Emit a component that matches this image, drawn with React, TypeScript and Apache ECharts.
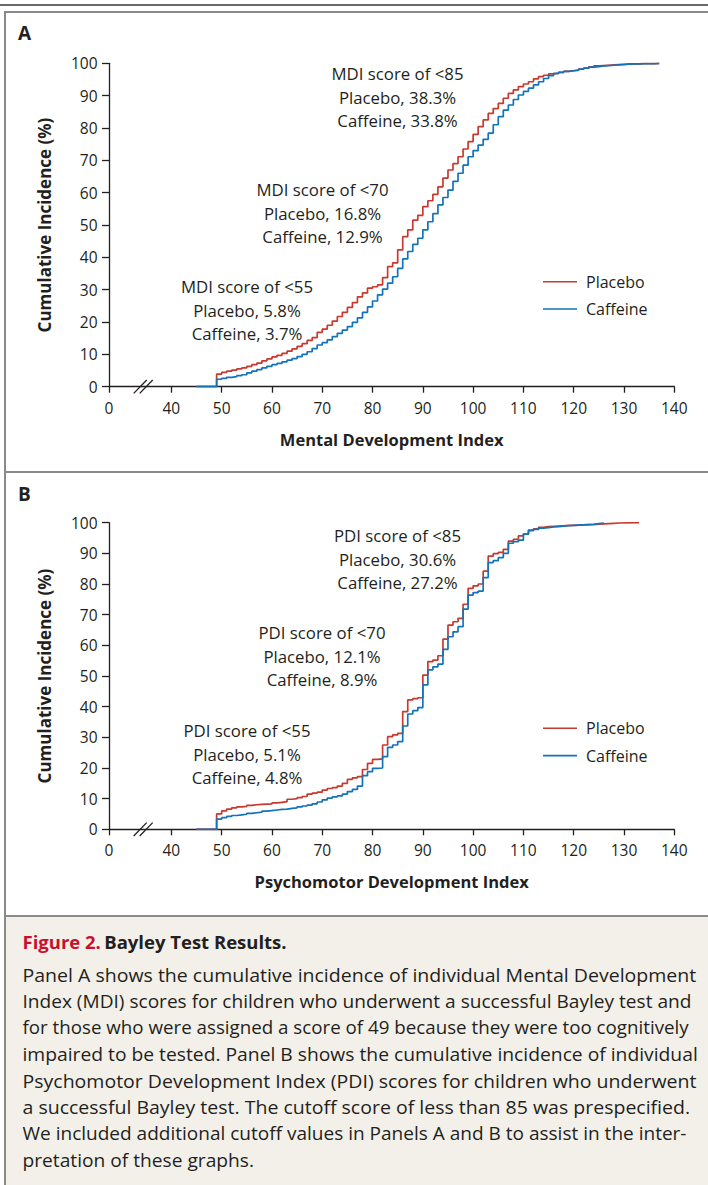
import React, { useEffect, useRef } from "react";
import * as echarts from "echarts";

const W = 708;
const H = 1185;
const FONT = "'Open Sans', 'Noto Sans', sans-serif";
const INK = "#231f20";
const RED = "#c8392e";
const BLUE = "#1273bb";

// x-axis: value that stands for 0 after the axis break
const X_ZERO_AT = 27.6;
const X_MAX = 140;
const xTickValues = [0, 40, 50, 60, 70, 80, 90, 100, 110, 120, 130, 140];
const BREAK_MARK_AT = 34.4;

// Panel A — Mental Development Index
const mdiScores = [
  45, 49, 50, 51, 52, 53, 54, 55, 56, 57, 58, 59, 60, 61, 62, 63, 64, 65, 66, 67, 68, 69,
  70, 71, 72, 73, 74, 75, 76, 77, 78, 79, 80, 81, 82, 83, 84, 85, 86, 87, 88, 89, 90, 91,
  92, 93, 94, 95, 96, 97, 98, 99, 100, 101, 102, 103, 104, 105, 106, 107, 108, 109, 110,
  111, 112, 113, 114, 115, 116, 117, 118, 119, 120, 121, 122, 123, 124, 125, 126, 127,
  128, 129, 130, 131, 132, 133, 134, 135, 136, 137,
];
const mdiPlacebo = [
  0, 3.9, 4.4, 4.8, 5.1, 5.5, 5.8, 6.3, 6.8, 7.3, 8.0, 8.6, 9.2, 9.7, 10.3, 11.0, 11.7, 12.5,
  13.3, 14.3, 15.2, 16.8, 17.8, 19.0, 20.3, 21.7, 23.0, 24.5, 26.0, 27.8, 29.0, 30.5, 30.9,
  31.5, 33.7, 37.1, 38.3, 42.3, 46.4, 48.5, 51.5, 53.0, 55.7, 57.5, 59.5, 61.8, 64.5, 67.0,
  69.0, 71.1, 73.5, 75.8, 78.0, 80.4, 82.5, 84.5, 86.0, 87.6, 89.2, 90.7, 91.8, 92.8, 93.6,
  94.3, 95.2, 95.9, 96.3, 96.7, 96.9, 97.2, 97.5, 97.7, 97.9, 98.2, 98.5, 98.9, 99.2, 99.3,
  99.4, 99.5, 99.6, 99.7, 99.8, 99.8, 99.8, 99.9, 99.9, 99.9, 100, 100,
];
const mdiCaffeine = [
  0, 2.3, 2.6, 2.9, 3.1, 3.4, 3.7, 4.3, 4.8, 5.3, 5.8, 6.3, 6.8, 7.2, 7.7, 8.2, 8.7, 9.3,
  10.0, 10.8, 11.8, 12.9, 13.6, 14.5, 15.5, 16.5, 17.5, 18.6, 19.9, 21.3, 23.0, 24.7, 26.5,
  28.4, 30.2, 32.0, 34.0, 36.6, 39.5, 41.8, 44.0, 45.9, 48.5, 51.0, 53.5, 56.2, 58.5, 60.8,
  63.5, 66.0, 68.5, 71.1, 73.0, 74.7, 76.5, 78.4, 81.0, 83.5, 85.5, 87.1, 88.8, 90.2, 91.3,
  92.3, 93.3, 94.3, 95.3, 96.2, 96.9, 97.2, 97.5, 97.7, 97.9, 98.2, 98.5, 98.8, 99.0, 99.2,
  99.3, 99.4, 99.5, 99.6, 99.7, 99.8, 99.8, 99.9, 99.9, 99.9, 100, 100,
];

// Panel B — Psychomotor Development Index
const pdiPlaceboScores = [
  45, 49, 50, 51, 52, 53, 54, 55, 56, 57, 58, 59, 60, 61, 62, 63, 64, 65, 66, 67, 68, 69,
  70, 71, 72, 73, 74, 75, 76, 77, 78, 79, 80, 81, 82, 83, 84, 85, 86, 87, 88, 89, 90, 91,
  92, 93, 94, 95, 96, 97, 98, 99, 100, 101, 102, 103, 104, 105, 106, 107, 108, 109, 110,
  111, 112, 113, 114, 115, 116, 117, 118, 119, 120, 121, 122, 123, 124, 125, 126, 127,
  128, 129, 133,
];
const pdiPlacebo = [
  0, 5.0, 6.0, 6.6, 7.0, 7.3, 7.5, 7.8, 8.0, 8.1, 8.2, 8.3, 8.6, 8.8, 9.0, 9.8, 10.0, 10.3,
  10.7, 11.5, 11.8, 12.1, 12.8, 13.3, 13.6, 14.1, 15.0, 16.3, 16.8, 17.2, 19.5, 21.5, 22.8,
  23.0, 27.5, 30.2, 30.8, 31.3, 38.4, 42.2, 42.6, 42.9, 50.3, 54.7, 55.2, 56.6, 62.0, 66.6,
  67.7, 68.8, 73.4, 78.6, 79.4, 80.0, 84.2, 89.1, 89.9, 90.3, 91.3, 94.0, 94.6, 95.7, 96.3,
  97.6, 98.0, 98.5, 98.7, 98.8, 98.9, 99.0, 99.1, 99.1, 99.2, 99.3, 99.4, 99.4, 99.5, 99.6,
  99.7, 99.8, 99.9, 100, 100,
];
const pdiCaffeineScores = [
  45, 49, 50, 51, 52, 53, 54, 55, 56, 57, 58, 59, 60, 61, 62, 63, 64, 65, 66, 67, 68, 69,
  70, 71, 72, 73, 74, 75, 76, 77, 78, 79, 80, 81, 82, 83, 84, 85, 86, 87, 88, 89, 90, 91,
  92, 93, 94, 95, 96, 97, 98, 99, 100, 101, 102, 103, 104, 105, 106, 107, 108, 109, 110,
  111, 112, 113, 114, 115, 116, 117, 118, 119, 120, 121, 122, 123, 124, 125, 126,
];
const pdiCaffeine = [
  0, 3.3, 3.8, 4.2, 4.5, 4.7, 4.9, 5.2, 5.4, 5.6, 5.9, 6.1, 6.3, 6.5, 6.6, 6.8, 7.0, 7.3,
  7.6, 7.9, 8.3, 8.9, 9.6, 10.2, 10.6, 10.9, 11.5, 12.3, 13.0, 14.1, 17.5, 18.8, 19.9, 20.0,
  23.7, 26.7, 27.5, 28.6, 33.7, 37.6, 38.7, 39.7, 47.1, 52.0, 53.0, 53.9, 58.7, 62.8, 64.4,
  66.1, 71.8, 76.4, 77.2, 77.7, 82.1, 87.0, 87.6, 88.6, 90.0, 93.3, 93.8, 94.3, 96.3, 97.4,
  97.8, 98.2, 98.4, 98.6, 98.7, 98.9, 99.0, 99.1, 99.2, 99.3, 99.4, 99.5, 99.7, 99.9, 100,
];

const seriesNames = ["Placebo", "Caffeine"];
const panelLabels = ["A", "B"];
const xAxisTitles = ["Mental Development Index", "Psychomotor Development Index"];
const yAxisTitle = "Cumulative Incidence (%)";

const mdiNotes = [
  ["MDI score of <85", "Placebo, 38.3%", "Caffeine, 33.8%"],
  ["MDI score of <70", "Placebo, 16.8%", "Caffeine, 12.9%"],
  ["MDI score of <55", "Placebo, 5.8%", "Caffeine, 3.7%"],
];
const pdiNotes = [
  ["PDI score of <85", "Placebo, 30.6%", "Caffeine, 27.2%"],
  ["PDI score of <70", "Placebo, 12.1%", "Caffeine, 8.9%"],
  ["PDI score of <55", "Placebo, 5.1%", "Caffeine, 4.8%"],
];

const captionTitleRed = "Figure 2.";
const captionTitle = "Bayley Test Results.";
const captionLines = [
  "Panel A shows the cumulative incidence of individual Mental Development",
  "Index (MDI) scores for children who underwent a successful Bayley test and",
  "for those who were assigned a score of 49 because they were too cognitively",
  "impaired to be tested. Panel B shows the cumulative incidence of individual",
  "Psychomotor Development Index (PDI) scores for children who underwent",
  "a successful Bayley test. The cutoff score of less than 85 was prespecified.",
  "We included additional cutoff values in Panels A and B to assist in the inter-",
  "pretation of these graphs.",
];
// right end (px) of each caption line in the reference layout
const captionLineEnds = [696.7, 691.7, 689.3, 698.3, 696.7, 690.7, 687.3, 254];

// layout
const GRIDS = [
  { left: 109, top: 63.3, height: 323.4 },
  { left: 109, top: 522.7, height: 306.6 },
];
const GRID_RIGHT = 33.7;
const NOTE_POS = [
  [
    [397.5, 74],
    [322.5, 190],
    [247, 287],
  ],
  [
    [397.5, 536],
    [322, 633],
    [247, 731],
  ],
];
const LEGEND_TOP = [266.7, 713.3];
const CAPTION_X = 22.5;
const CAPTION_FIRST_Y = 974.3;
const CAPTION_LH = 26.5;
const CAPTION_SIZE = 19;

const tickPos = (v: number) => (v === 0 ? X_ZERO_AT : v);

function pairs(xs: number[], ys: number[]) {
  return xs.map((x, i) => [x, ys[i]]);
}

function measure(text: string, size: number) {
  try {
    const c = document.createElement("canvas").getContext("2d");
    if (!c) return 0;
    c.font = `${size}px 'Open Sans'`;
    return c.measureText(text).width;
  } catch {
    return 0;
  }
}

export default function App() {
  const ref = useRef<HTMLDivElement>(null);

  useEffect(() => {
    if (!ref.current) return;
    const chart = echarts.init(ref.current, null, { renderer: "svg", width: W, height: H });

    const customTicks = xTickValues.map(tickPos);
    const xAxes = GRIDS.map((_, i) => ({
      type: "value",
      gridIndex: i,
      min: X_ZERO_AT,
      max: X_MAX,
      name: xAxisTitles[i],
      nameLocation: "middle",
      nameGap: 44,
      nameTextStyle: { fontFamily: FONT, fontSize: 16.5, fontWeight: "bold", color: INK },
      axisLine: { show: true, lineStyle: { color: INK, width: 1.3 } },
      axisTick: {
        show: true,
        inside: false,
        length: 6,
        customValues: customTicks,
        lineStyle: { color: INK, width: 1.3 },
      },
      axisLabel: {
        show: true,
        inside: false,
        customValues: customTicks,
        margin: 13,
        fontFamily: FONT,
        fontSize: 15.5,
        color: INK,
        formatter: (v: number) => (v < 30 ? "0" : String(Math.round(v))),
      },
      splitLine: { show: false },
    }));
    const yAxes = GRIDS.map((_, i) => ({
      type: "value",
      gridIndex: i,
      min: 0,
      max: 100,
      interval: 10,
      name: yAxisTitle,
      nameLocation: "middle",
      nameGap: 56,
      nameRotate: 90,
      nameTextStyle: { fontFamily: FONT, fontSize: 17, fontWeight: "bold", color: INK },
      axisLine: { show: true, lineStyle: { color: INK, width: 1.3 } },
      axisTick: { show: true, inside: false, length: 7, lineStyle: { color: INK, width: 1.3 } },
      axisLabel: { inside: false, margin: 11.5, fontFamily: FONT, fontSize: 15.5, color: INK },
      splitLine: { show: false },
    }));

    const mk = (name: string, data: number[][], gi: number, color: string) => ({
      type: "line",
      name,
      xAxisIndex: gi,
      yAxisIndex: gi,
      data,
      step: "end",
      symbol: "none",
      lineStyle: { color, width: 1.7 },
      itemStyle: { color },
      z: name === "Caffeine" ? 3 : 2,
    });

    const series = [
      mk(seriesNames[0], pairs(mdiScores, mdiPlacebo), 0, RED),
      mk(seriesNames[1], pairs(mdiScores, mdiCaffeine), 0, BLUE),
      mk(seriesNames[0], pairs(pdiPlaceboScores, pdiPlacebo), 1, RED),
      mk(seriesNames[1], pairs(pdiCaffeineScores, pdiCaffeine), 1, BLUE),
    ];

    const legends = LEGEND_TOP.map((top) => ({
      left: 538,
      top,
      orient: "vertical",
      icon: "rect",
      itemWidth: 34,
      itemHeight: 1.6,
      itemGap: 7.3,
      data: seriesNames,
      selectedMode: false,
      textStyle: { fontFamily: FONT, fontSize: 16, color: INK, lineHeight: 20, padding: [0, 0, 0, 4] },
    }));

    chart.setOption({
      animation: false,
      backgroundColor: "#ffffff",
      textStyle: { fontFamily: FONT },
      grid: GRIDS.map((g) => ({ left: g.left, top: g.top, height: g.height, right: GRID_RIGHT })),
      xAxis: xAxes,
      yAxis: yAxes,
      legend: legends,
      series,
    });

    const graphics: any[] = [];
    const frame = "#8a8a8a";
    // caption background
    graphics.push({
      type: "rect",
      shape: { x: 5, y: 916, width: W - 5, height: H - 916 },
      style: { fill: "#f3f0e9" },
      z: -10,
    });
    graphics.push({ type: "rect", shape: { x: 0, y: 4, width: W, height: 2 }, style: { fill: "#6b6b6b" } });
    graphics.push({ type: "line", shape: { x1: 5, y1: 12, x2: W, y2: 12 }, style: { stroke: frame, lineWidth: 2 } });
    graphics.push({ type: "line", shape: { x1: 5, y1: 11, x2: 5, y2: H }, style: { stroke: frame, lineWidth: 2 } });
    graphics.push({ type: "line", shape: { x1: 5, y1: 472, x2: W, y2: 472 }, style: { stroke: frame, lineWidth: 2 } });
    graphics.push({ type: "line", shape: { x1: 5, y1: 916, x2: W, y2: 916 }, style: { stroke: frame, lineWidth: 2 } });

    // panel letters
    [33, 494].forEach((y, i) =>
      graphics.push({
        type: "text",
        x: 18,
        y,
        style: {
          text: panelLabels[i],
          fontFamily: FONT,
          fontSize: 19,
          fontWeight: "bold",
          fill: INK,
          verticalAlign: "middle",
        },
      })
    );

    // annotations
    [mdiNotes, pdiNotes].forEach((notes, gi) =>
      notes.forEach((lines, k) => {
        const [cx, cy] = NOTE_POS[gi][k];
        graphics.push({
          type: "text",
          x: cx,
          y: cy - 11.7,
          style: {
            text: lines.join("\n"),
            fontFamily: FONT,
            fontSize: 16.8,
            lineHeight: 23.4,
            fill: INK,
            align: "center",
            verticalAlign: "top",
          },
        });
      })
    );

    // axis break marks
    GRIDS.forEach((_, gi) => {
      const p = chart.convertToPixel({ gridIndex: gi }, [BREAK_MARK_AT, 0]) as number[];
      [-3, 3].forEach((dx) =>
        graphics.push({
          type: "line",
          shape: { x1: p[0] + dx - 6.5, y1: p[1] + 6.7, x2: p[0] + dx + 6.5, y2: p[1] - 6.7 },
          style: { stroke: INK, lineWidth: 1.3 },
          z: 10,
        })
      );
    });

    // caption
    graphics.push({
      type: "text",
      x: CAPTION_X,
      y: 941,
      style: {
        text: `{r|${captionTitleRed}} {b|${captionTitle}}`,
        verticalAlign: "middle",
        rich: {
          r: { fontFamily: FONT, fontSize: 18.5, fontWeight: "bold", fill: "#c8102e" },
          b: { fontFamily: FONT, fontSize: 18.5, fontWeight: "bold", fill: INK },
        },
      },
    });
    captionLines.forEach((line, i) => {
      const target = captionLineEnds[i] - CAPTION_X;
      const w = measure(line, CAPTION_SIZE);
      let sx = w > 0 ? target / w : 1;
      if (sx < 0.85 || sx > 1.15) sx = 1;
      graphics.push({
        type: "text",
        x: CAPTION_X,
        y: CAPTION_FIRST_Y + i * CAPTION_LH,
        scaleX: sx,
        style: {
          text: line,
          fontFamily: FONT,
          fontSize: CAPTION_SIZE,
          fill: INK,
          verticalAlign: "middle",
        },
      });
    });

    chart.setOption({ graphic: graphics });

    return () => chart.dispose();
  }, []);

  return (
    <div
      ref={ref}
      style={{ position: "absolute", left: 0, top: 0, width: W, height: H, background: "#fff" }}
    />
  );
}
